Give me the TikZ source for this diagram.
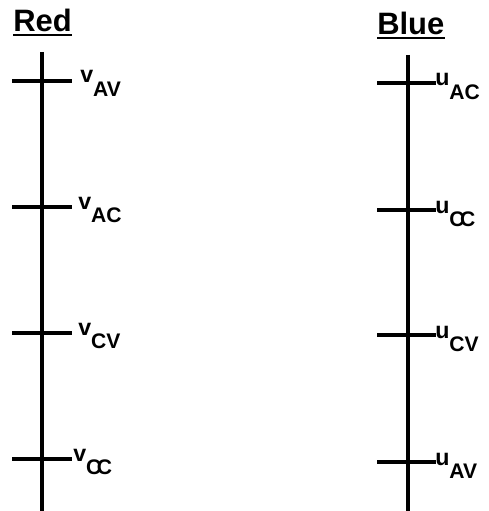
\documentclass[tikz,border=0pt]{standalone}
\usepackage{fontspec}
\setmainfont{Liberation Sans}

% variable with a lowered subscript
\newcommand{\lbl}[2]{{\fontsize{16.5}{18}\selectfont #1}\raisebox{-9.5pt}{\fontsize{15}{16}\selectfont #2}}
\newcommand{\cc}{C\kern-0.22em C}

\begin{document}
\begin{tikzpicture}[x=0.025cm, y=-0.025cm,
        axis/.style = {line width=2.3pt},
        tick/.style = {line width=2.2pt},
        title/.style = {anchor=base west, inner sep=0pt,
            font=\fontsize{22}{24}\selectfont\bfseries},
        lab/.style = {anchor=base west, inner sep=0pt, font=\bfseries}
        ]
    \useasboundingbox (0,0) rectangle (488,511);

    % Red column
    \node[title] (red) at (13,32) {Red};
    \draw[line width=1.8pt] ([yshift=-2pt]red.base west) -- ([yshift=-2pt]red.base east);
    \coordinate (redtop) at (42,52);
    \coordinate (redbot) at (42,511);
    \draw[axis] (redtop) -- (redbot);
    \foreach \y/\lx/\sub [count=\i] in {81/80/AV,207/78/AC,333/78/CV,459/73/\cc} {
        \coordinate (rl\i) at (12,\y);
        \coordinate (rr\i) at (72,\y);
        \draw[tick] (rl\i) -- (rr\i);
        \node[lab] (v\i) at (\lx,\y+2) {\lbl{v}{\sub}};
    }

    % Blue column
    \node[title] (blue) at (377,35) {Blue};
    \draw[line width=1.8pt] ([yshift=-2pt]blue.base west) -- ([yshift=-2pt]blue.base east);
    \coordinate (bluetop) at (408,55);
    \coordinate (bluebot) at (408,511);
    \draw[axis] (bluetop) -- (bluebot);
    \foreach \y/\sub [count=\i] in {83/AC,210/\cc,335/CV,462/AV} {
        \coordinate (bl\i) at (377,\y);
        \coordinate (br\i) at (436,\y);
        \draw[tick] (bl\i) -- (br\i);
        \node[lab] (u\i) at (435,\y+3) {\lbl{u}{\sub}};
    }

\end{tikzpicture}
\end{document}
